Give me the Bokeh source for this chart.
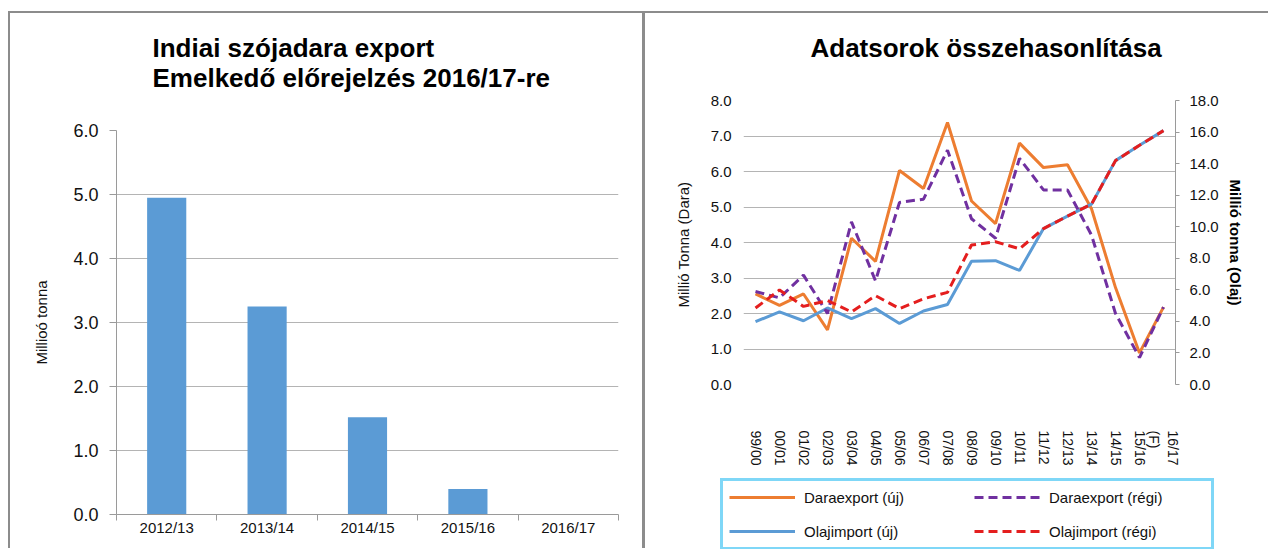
from bokeh.plotting import figure
from bokeh.models import (Range1d, LinearAxis, FixedTicker, NumeralTickFormatter,
                          Legend, LegendItem, Title)
from bokeh.embed import file_html
from bokeh.resources import INLINE

# ---------------- data ----------------
bar_years = ["2012/13", "2013/14", "2014/15", "2015/16", "2016/17"]
bar_values = [4.95, 3.25, 1.52, 0.40, 0.0]

seasons = ["99/00", "00/01", "01/02", "02/03", "03/04", "04/05", "05/06", "06/07",
           "07/08", "08/09", "09/10", "10/11", "11/12", "12/13", "13/14", "14/15",
           "15/16", "16/17\n(F)"]
dara_uj = [2.55, 2.23, 2.55, 1.54, 4.12, 3.47, 6.03, 5.52, 7.38, 5.17, 4.53, 6.80,
           6.11, 6.19, 4.95, 2.73, 0.89, 2.18]
dara_regi = [2.62, 2.44, 3.08, 2.00, 4.58, 2.92, 5.13, 5.22, 6.60, 4.67, 4.12, 6.37,
             5.48, 5.48, 4.21, 2.00, 0.76, 2.18]
olaj_uj = [3.98, 4.60, 4.04, 4.85, 4.18, 4.81, 3.87, 4.66, 5.07, 7.81, 7.85, 7.23,
           9.88, 10.67, 11.43, 14.19, 15.16, 16.09]
olaj_regi = [4.85, 5.99, 4.95, 5.32, 4.60, 5.63, 4.81, 5.43, 5.84, 8.84, 9.05, 8.60,
             9.88, 10.67, 11.43, 14.19, 15.16, 16.09]

series_labels = ["Daraexport (új)", "Olajimport (új)", "Daraexport (régi)",
                 "Olajimport (régi)"]

left_ticks = [0, 1, 2, 3, 4, 5, 6]
dara_ticks = [0, 1, 2, 3, 4, 5, 6, 7, 8]
olaj_ticks = [0, 2, 4, 6, 8, 10, 12, 14, 16, 18]

FONT = "Liberation Sans"
GRID = "#b4b4b4"
AXIS = "#9a9a9a"
TXT = "#111111"
BORDER = "#8c8c8c"
C_DU, C_OU, C_DR, C_OR = "#ED7D31", "#5B9BD5", "#7030A0", "#E41E1E"
DASH = "9 5"
TOP = -10   # figures start slightly above the page so the titles can sit high


def panel_css(left, vline):
    # grey panel frame (top line at page y=11, left line) painted behind a transparent border area
    g = f"linear-gradient({BORDER},{BORDER})"
    y = 11 - TOP
    return {"position": "absolute", "left": f"{left}px", "top": f"{TOP}px",
            "background": f"{g} 0px {y}px / 100% 2px no-repeat, "
                          f"{g} 0px {y}px / {vline}px 100% no-repeat, white"}


# ---------------- left chart ----------------
p1 = figure(width=634, height=558, x_range=Range1d(0, len(bar_years)),
            y_range=Range1d(0, 6), output_backend="svg", toolbar_location=None,
            min_border_left=108, min_border_right=24, min_border_top=140,
            min_border_bottom=34)
p1.outline_line_color = None
p1.background_fill_color = "white"
p1.border_fill_color = None

centers = [i + 0.5 for i in range(len(bar_years))]
p1.vbar(x=centers, top=bar_values, width=0.39, fill_color="#5B9BD5", line_color=None)

t1 = Title(text="Indiai szójadara export\n Emelkedő előrejelzés 2016/17-re",
           align="left", offset=36, text_font=FONT, text_font_size="26px",
           text_font_style="bold", text_color="black", standoff=74,
           text_line_height=1.03)
p1.add_layout(t1, "above")

xa = p1.xaxis[0]
xa.ticker = FixedTicker(ticks=centers, minor_ticks=list(range(len(bar_years) + 1)))
xa.major_label_overrides = {c: y for c, y in zip(centers, bar_years)}
xa.major_tick_line_color = None
xa.major_tick_out = 0
xa.minor_tick_out = 6
xa.minor_tick_in = 0
xa.minor_tick_line_color = AXIS
xa.axis_line_color = AXIS
xa.major_label_standoff = -2
xa.major_label_text_font = FONT
xa.major_label_text_font_size = "15px"
xa.major_label_text_color = TXT

ya = p1.yaxis[0]
ya.ticker = FixedTicker(ticks=left_ticks)
ya.formatter = NumeralTickFormatter(format="0.0")
ya.minor_tick_line_color = None
ya.major_tick_out = 7
ya.major_tick_in = 0
ya.major_tick_line_color = AXIS
ya.axis_line_color = AXIS
ya.major_label_standoff = 11
ya.major_label_text_font = FONT
ya.major_label_text_font_size = "18px"
ya.major_label_text_color = TXT
ya.axis_label = "Millioó tonna"
ya.axis_label_text_font = FONT
ya.axis_label_text_font_size = "15px"
ya.axis_label_text_font_style = "normal"
ya.axis_label_text_color = TXT
ya.axis_label_standoff = 20

p1.xgrid.grid_line_color = None
p1.ygrid.ticker = FixedTicker(ticks=left_ticks)
p1.ygrid.grid_line_color = GRID

# ---------------- right chart ----------------
p2 = figure(width=626, height=558, x_range=Range1d(-0.5, len(seasons) - 0.5),
            y_range=Range1d(0, 8), output_backend="svg", toolbar_location=None,
            min_border_left=101, min_border_right=93, min_border_top=110,
            min_border_bottom=164)
p2.extra_y_ranges = {"olaj": Range1d(0, 18)}
p2.outline_line_color = None
p2.background_fill_color = "white"
p2.border_fill_color = None

tt = Title(text="Adatsorok összehasonlítása", align="left", offset=67,
           text_font=FONT, text_font_size="26px", text_font_style="bold",
           text_color="black", standoff=76)
p2.add_layout(tt, "above")

xs = list(range(len(seasons)))
p2.line(xs, dara_uj, line_color=C_DU, line_width=3)
p2.line(xs, olaj_uj, line_color=C_OU, line_width=3, y_range_name="olaj")
p2.line(xs, dara_regi, line_color=C_DR, line_width=3, line_dash=DASH)
p2.line(xs, olaj_regi, line_color=C_OR, line_width=3, line_dash=DASH,
        y_range_name="olaj")

bx = p2.xaxis[0]
bx.ticker = FixedTicker(ticks=xs)
bx.major_label_overrides = {i: s for i, s in zip(xs, seasons)}
bx.major_label_orientation = "vertical"
bx.major_tick_line_color = None
bx.minor_tick_line_color = None
bx.axis_line_color = None
bx.major_label_standoff = 40
bx.major_label_text_font = FONT
bx.major_label_text_font_size = "14px"
bx.major_label_text_color = TXT

ly = p2.yaxis[0]
ly.ticker = FixedTicker(ticks=dara_ticks)
ly.formatter = NumeralTickFormatter(format="0.0")
ly.major_tick_line_color = None
ly.minor_tick_line_color = None
ly.axis_line_color = None
ly.major_label_standoff = 6
ly.major_label_text_font = FONT
ly.major_label_text_font_size = "15px"
ly.major_label_text_color = TXT
ly.axis_label = "Millió Tonna  (Dara)"
ly.axis_label_text_font = FONT
ly.axis_label_text_font_size = "15px"
ly.axis_label_text_font_style = "normal"
ly.axis_label_text_color = TXT
ly.axis_label_standoff = 16

ry = LinearAxis(y_range_name="olaj", ticker=FixedTicker(ticks=olaj_ticks),
                formatter=NumeralTickFormatter(format="0.0"))
ry.minor_tick_line_color = None
ry.major_tick_out = 4
ry.major_tick_in = 0
ry.major_tick_line_color = AXIS
ry.axis_line_color = AXIS
ry.major_label_standoff = 10
ry.major_label_text_font = FONT
ry.major_label_text_font_size = "15px"
ry.major_label_text_color = TXT
ry.axis_label = "Millió tonna (Olaj)"
ry.axis_label_text_font = FONT
ry.axis_label_text_font_size = "15px"
ry.axis_label_text_font_style = "bold"
ry.axis_label_text_color = "black"
ry.axis_label_standoff = 5
p2.add_layout(ry, "right")

p2.xgrid.grid_line_color = None
p2.ygrid.ticker = FixedTicker(ticks=dara_ticks)
p2.ygrid.grid_line_color = GRID

# ---------------- legend box (own small canvas under the right chart) ----------------
p3 = figure(width=540, height=73, x_range=Range1d(0, 1), y_range=Range1d(0, 1),
            output_backend="svg", toolbar_location=None, min_border=0,
            x_axis_type=None, y_axis_type=None)
p3.outline_line_color = None
p3.grid.visible = False
p3.border_fill_color = None
p3.background_fill_color = None
styles_k = [dict(line_color=C_DU), dict(line_color=C_OU),
            dict(line_color=C_DR, line_dash=DASH), dict(line_color=C_OR, line_dash=DASH)]
items = []
for lab, kw in zip(series_labels, styles_k):
    r = p3.line(x=[float("nan")], y=[float("nan")], line_width=3, **kw)
    items.append(LegendItem(label=lab, renderers=[r]))
legend = Legend(items=items, ncols=2, location="top_left")
legend.border_line_color = "#00B0F0"
legend.border_line_width = 3
legend.background_fill_color = "white"
legend.background_fill_alpha = 1
legend.glyph_width = 66
legend.glyph_height = 20
legend.label_standoff = 9
legend.label_width = 156
legend.label_height = 20
legend.spacing = 14
legend.padding = 6
legend.margin = 2
legend.label_text_font = FONT
legend.label_text_font_size = "15px"
legend.label_text_color = TXT
p3.add_layout(legend, "center")

p1.styles = panel_css(8, 2)
p2.styles = panel_css(642, 3)
p3.styles = {"position": "absolute", "left": "718px", "top": "476px"}

open("out.html", "w").write(file_html([p1, p2, p3], INLINE))
